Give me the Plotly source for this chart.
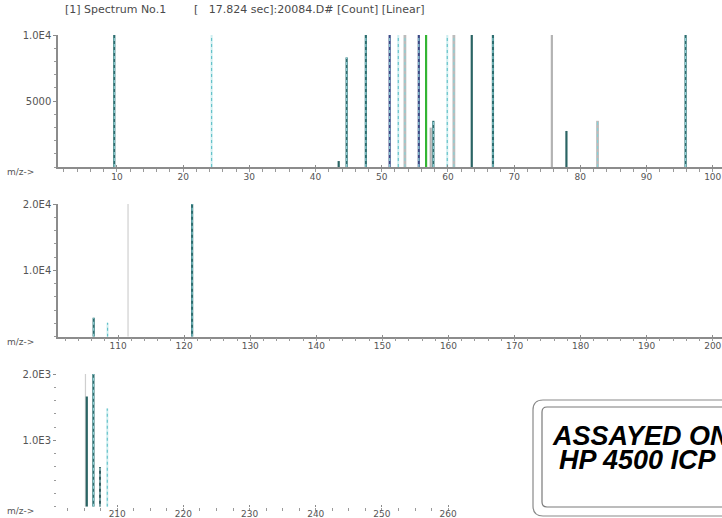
import plotly.graph_objects as go

# ---------------- data ----------------
top_mz = [9.6, 24.3, 43.5, 44.7, 47.6, 51.2, 52.5, 53.5, 55.6, 56.7,
          57.4, 57.8, 59.9, 60.9, 63.6, 66.8, 75.7, 77.9, 82.6, 95.9]
top_counts = [10000, 10000, 450, 8300, 10000, 10000, 10000, 10000, 10000, 10000,
              2980, 3500, 10000, 10000, 10000, 10000, 10000, 2730, 3500, 10000]
top_kind = ["tealdot", "cyandot", "dark", "tealdot", "tealdot", "purpledot", "cyandot",
            "graycyan", "purpledot", "green", "gray", "tealdot", "cyandot", "graycyan",
            "dark", "tealdot", "gray", "dark", "graycyan", "tealdot"]

mid_mz = [106.3, 108.4, 111.5, 121.2]
mid_counts = [2870, 2110, 20000, 20000]
mid_kind = ["tealdot", "cyandot", "thingray", "tealdot"]

low_mz = [205.2, 205.4, 206.4, 207.4, 208.5]
low_counts = [2000, 1660, 2000, 600, 1480]
low_kind = ["thingray", "dark", "tealdot", "darkdot", "cyandot"]

top_ticks = [10, 20, 30, 40, 50, 60, 70, 80, 90, 100]
top_ticktext = ["10", "20", "30", "40", "50", "60", "70", "80", "90", "100"]
mid_ticks = [110, 120, 130, 140, 150, 160, 170, 180, 190, 200]
mid_ticktext = ["110", "120", "130", "140", "150", "160", "170", "180", "190", "200"]
low_ticks = [210, 220, 230, 240, 250, 260]
low_ticktext = ["210", "220", "230", "240", "250", "260"]

top_yticks = [5000, 10000]
top_yticktext = ["5000", "1.0E4"]
mid_yticks = [10000, 20000]
mid_yticktext = ["1.0E4", "2.0E4"]
low_yticks = [1000, 2000]
low_yticktext = ["1.0E3", "2.0E3"]

header_left = "[1] Spectrum No.1"
header_right = "[   17.824 sec]:20084.D# [Count] [Linear]"
stamp_lines = ["ASSAYED ON", "HP 4500 ICP"]

# ---------------- styling ----------------
W, H = 722, 518
STYLES = {
    "tealdot":   ("#2d6e70", 2.2, "#93d6dc"),
    "dark":      ("#2a6464", 2.2, None),
    "darkdot":   ("#355e60", 2.0, "#b8dfe2"),
    "cyandot":   ("#cfeef0", 2.0, "#62c0c8"),
    "gray":      ("#b3b3b3", 2.2, None),
    "graycyan":  ("#bcbcbc", 2.8, "#86d2d8"),
    "purpledot": ("#3a4884", 2.2, "#8fd3da"),
    "green":     ("#33b533", 2.2, None),
    "thingray":  ("#cfcfcf", 1.2, None),
}


def px_x(p):
    return p / W


def px_y(p):
    return 1 - p / H


fig = go.Figure()


def add_peaks(mz, counts, kinds, xa, ya):
    for m, c, k in zip(mz, counts, kinds):
        col, wid, over = STYLES[k]
        fig.add_trace(go.Scatter(x=[m, m], y=[0, c], mode="lines",
                                 line=dict(color=col, width=wid),
                                 xaxis=xa, yaxis=ya, hoverinfo="skip",
                                 showlegend=False))
        if over:
            fig.add_trace(go.Scatter(x=[m, m], y=[0, c], mode="lines",
                                     line=dict(color=over, width=1.1, dash="dot"),
                                     xaxis=xa, yaxis=ya, hoverinfo="skip",
                                     showlegend=False))


add_peaks(top_mz, top_counts, top_kind, "x", "y")
add_peaks(mid_mz, mid_counts, mid_kind, "x2", "y2")
add_peaks(low_mz, low_counts, low_kind, "x3", "y3")

xtick_font = dict(family="DejaVu Sans", size=9, color="#555555")
ytick_font = dict(family="DejaVu Sans", size=10, color="#555555")
axis_col = "#8c8c8c"


def xaxis(domain, rng, tv, tt, anchor, line=True, minor_dt=2):
    return dict(domain=domain, range=rng, anchor=anchor, tickmode="array",
                tickvals=tv, ticktext=tt, showgrid=False, zeroline=False,
                showline=line, linecolor=axis_col, linewidth=1.5,
                ticks="inside", ticklen=2, tickcolor=axis_col, tickwidth=1,
                tickfont=xtick_font,
                minor=dict(dtick=minor_dt, tick0=0, ticks="outside", ticklen=3,
                           tickcolor="#9a9a9a", showgrid=False),
                fixedrange=True)


def yaxis(domain, rng, tv, tt, anchor, minor_dt, line=True):
    return dict(domain=domain, range=rng, anchor=anchor, tickmode="array",
                tickvals=tv, ticktext=tt, showgrid=False, zeroline=False,
                showline=line, linecolor=axis_col, linewidth=1.5,
                ticks="outside", ticklen=3, tickcolor=axis_col, tickwidth=1,
                tickfont=ytick_font,
                minor=dict(dtick=minor_dt, tick0=0, ticks="outside", ticklen=2,
                           tickcolor="#9a9a9a", showgrid=False),
                fixedrange=True)


fig.update_layout(
    width=W, height=H,
    margin=dict(l=0, r=0, t=0, b=0, autoexpand=False),
    paper_bgcolor="white", plot_bgcolor="white",
    showlegend=False,
    xaxis=xaxis([px_x(58), 1], [1.1, 101.4], top_ticks, top_ticktext, "y"),
    yaxis=yaxis([px_y(167), px_y(35)], [0, 10000], top_yticks, top_yticktext, "x", 1000),
    xaxis2=xaxis([px_x(58), 1], [100.9, 201.4], mid_ticks, mid_ticktext, "y2"),
    yaxis2=yaxis([px_y(336.7), px_y(204)], [0, 20000], mid_yticks, mid_yticktext, "x2", 2000),
    xaxis3=xaxis([px_x(57), px_x(462)], [200.9, 262.1], low_ticks, low_ticktext, "y3",
                 line=False, minor_dt=2.5),
    yaxis3=yaxis([px_y(506.7), px_y(374)], [0, 2000], low_yticks, low_yticktext, "x3", 200,
                 line=False),
)

small = dict(family="DejaVu Sans", size=9, color="#555555")
for yy in (172, 342, 511):
    fig.add_annotation(x=px_x(5), y=px_y(yy), xref="paper", yref="paper",
                       text="m/z->", showarrow=False, xanchor="left", yanchor="middle",
                       font=small)

head_font = dict(family="DejaVu Sans", size=11, color="#4a4a4a")
fig.add_annotation(x=px_x(63), y=px_y(10), xref="paper", yref="paper",
                   text=header_left, showarrow=False, xanchor="left", yanchor="middle",
                   font=head_font)
fig.add_annotation(x=px_x(192), y=px_y(10), xref="paper", yref="paper",
                   text=header_right, showarrow=False, xanchor="left", yanchor="middle",
                   font=head_font)


def rounded(x0, y0, x1, y1, r):
    def P(x, y):
        return f"{px_x(x):.5f},{px_y(y):.5f}"
    return (f"M {P(x0 + r, y0)} L {P(x1 - r, y0)} Q {P(x1, y0)} {P(x1, y0 + r)} "
            f"L {P(x1, y1 - r)} Q {P(x1, y1)} {P(x1 - r, y1)} L {P(x0 + r, y1)} "
            f"Q {P(x0, y1)} {P(x0, y1 - r)} L {P(x0, y0 + r)} Q {P(x0, y0)} {P(x0 + r, y0)} Z")


fig.add_shape(type="path", xref="paper", yref="paper",
              path=rounded(533, 400, 760, 516, 10),
              line=dict(color="#8a8a8a", width=1.2), fillcolor="white", layer="above")
fig.add_shape(type="path", xref="paper", yref="paper",
              path=rounded(542, 407, 760, 507, 5),
              line=dict(color="#7a7a7a", width=1.2), fillcolor="rgba(0,0,0,0)", layer="above")

stamp_font = dict(family="Liberation Sans, Arial", size=27, color="black")
fig.add_annotation(x=px_x(550), y=px_y(436), xref="paper", yref="paper",
                   text=f"<b><i>{stamp_lines[0]}</i></b>", showarrow=False,
                   xanchor="left", yanchor="middle", font=stamp_font)
fig.add_annotation(x=px_x(557), y=px_y(460), xref="paper", yref="paper",
                   text=f"<b><i>{stamp_lines[1]}</i></b>", showarrow=False,
                   xanchor="left", yanchor="middle", font=stamp_font)

fig.write_html("out.html", config={"displayModeBar": False},
               post_script="document.body.style.margin='0';document.body.style.overflow='hidden';")
